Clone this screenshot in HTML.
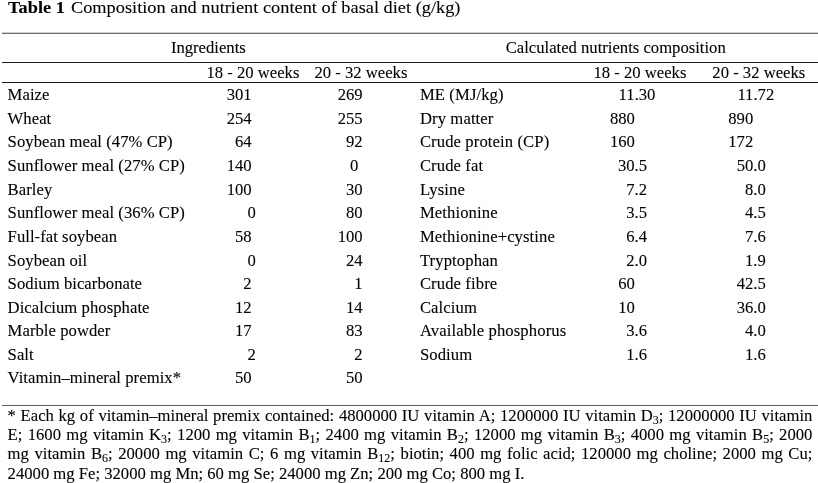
<!DOCTYPE html>
<html lang="en">
<head>
<meta charset="utf-8">
<title>Table 1 Composition and nutrient content of basal diet (g/kg)</title>
<style>
html,body{margin:0;padding:0;background:#fff;}
body{width:818px;height:483px;overflow:hidden;color:#000;
 font-family:"Liberation Serif",serif;font-size:16.65px;line-height:19px;
 -webkit-text-stroke:0.1px #000;}
table{border-collapse:separate;border-spacing:0;table-layout:fixed;width:816px;margin:0 0 0 2px;}
caption{caption-side:top;text-align:left;height:32px;line-height:14px;font-size:17.6px;
 padding:0 0 0 6px;border-bottom:1px solid #d0d0d0;white-space:nowrap;overflow:hidden;}
caption span{display:inline-block;transform:scaleX(1.042);transform-origin:0 0;}
caption b{margin-right:1.45px;}
th,td{padding:0;margin:0;font-weight:normal;white-space:nowrap;vertical-align:top;overflow:visible;}
thead .g th{height:28px;padding-top:4px;box-sizing:border-box;text-align:center;
 border-top:1px solid #6a6a6a;border-bottom:1px solid #1c1c1c;height:30px;}
thead .w th{height:20px;box-sizing:border-box;text-align:left;border-bottom:1px solid #1c1c1c;}
tbody td,tbody th{padding-top:2px;box-sizing:border-box;}
tbody th{text-align:left;}
tbody td{text-align:right;}
tbody tr.a>*{height:24px;}
tbody tr.b>*{height:23px;}
tbody tr.z>*{height:40px;border-bottom:1px solid #606060;}
th.l{padding-left:5.6px;letter-spacing:0.05px;}
th.r{padding-left:5.9px;letter-spacing:0.1px;}
.fn{margin:0 0 0 7.6px;padding:0;width:804.8px;}
.fn span{display:block;height:19px;white-space:nowrap;text-align:justify;text-align-last:justify;}
.fn span.t{height:20px;}
.fn span.e{text-align:left;text-align-last:left;}
sub{font-size:12px;vertical-align:baseline;position:relative;top:3px;line-height:0;}
</style>
</head>
<body>
<table>
<caption><span><b>Table 1</b> Composition and nutrient content of basal diet (g/kg)</span></caption>
<colgroup><col style="width:198px"><col style="width:107px"><col style="width:107px"><col style="width:173px"><col style="width:118px"><col style="width:113px"></colgroup>
<thead>
<tr class="g"><th colspan="3" scope="colgroup" style="padding-left:0.6px">Ingredients</th><th colspan="3" scope="colgroup" style="padding-right:0.6px">Calculated nutrients composition</th></tr>
<tr class="w"><th></th><th scope="col" style="padding-left:6.5px">18 - 20 weeks</th><th scope="col" style="padding-left:7.5px">20 - 32 weeks</th><th></th><th scope="col" style="padding-left:6.5px">18 - 20 weeks</th><th scope="col" style="padding-left:7.3px">20 - 32 weeks</th></tr>
</thead>
<tbody>
<tr class="a"><th scope="row" class="l">Maize</th><td style="padding-right:55.4px">301</td><td style="padding-right:51.4px">269</td><th scope="row" class="r">ME (MJ/kg)</th><td style="padding-right:49.6px">11.30</td><td style="padding-right:43.8px">11.72</td></tr>
<tr class="b"><th scope="row" class="l">Wheat</th><td style="padding-right:55.4px">254</td><td style="padding-right:51.4px">255</td><th scope="row" class="r">Dry matter</th><td style="padding-right:70.2px">880</td><td style="padding-right:64.8px">890</td></tr>
<tr class="a"><th scope="row" class="l">Soybean meal (47% CP)</th><td style="padding-right:55.4px">64</td><td style="padding-right:51.4px">92</td><th scope="row" class="r">Crude protein (CP)</th><td style="padding-right:70.2px">160</td><td style="padding-right:64.8px">172</td></tr>
<tr class="a"><th scope="row" class="l">Sunflower meal (27% CP)</th><td style="padding-right:55.4px">140</td><td style="padding-right:55.6px">0</td><th scope="row" class="r">Crude fat</th><td style="padding-right:58px">30.5</td><td style="padding-right:52.2px">50.0</td></tr>
<tr class="b"><th scope="row" class="l">Barley</th><td style="padding-right:55.4px">100</td><td style="padding-right:51.4px">30</td><th scope="row" class="r">Lysine</th><td style="padding-right:58px">7.2</td><td style="padding-right:52.2px">8.0</td></tr>
<tr class="a"><th scope="row" class="l">Sunflower meal (36% CP)</th><td style="padding-right:51.2px">0</td><td style="padding-right:51.4px">80</td><th scope="row" class="r">Methionine</th><td style="padding-right:58px">3.5</td><td style="padding-right:52.2px">4.5</td></tr>
<tr class="a"><th scope="row" class="l">Full-fat soybean</th><td style="padding-right:55.4px">58</td><td style="padding-right:51.4px">100</td><th scope="row" class="r">Methionine+cystine</th><td style="padding-right:58px">6.4</td><td style="padding-right:52.2px">7.6</td></tr>
<tr class="b"><th scope="row" class="l">Soybean oil</th><td style="padding-right:51.2px">0</td><td style="padding-right:51.4px">24</td><th scope="row" class="r">Tryptophan</th><td style="padding-right:58px">2.0</td><td style="padding-right:52.2px">1.9</td></tr>
<tr class="a"><th scope="row" class="l">Sodium bicarbonate</th><td style="padding-right:55.4px">2</td><td style="padding-right:51.4px">1</td><th scope="row" class="r">Crude fibre</th><td style="padding-right:70.2px">60</td><td style="padding-right:52.2px">42.5</td></tr>
<tr class="b"><th scope="row" class="l">Dicalcium phosphate</th><td style="padding-right:55.4px">12</td><td style="padding-right:51.4px">14</td><th scope="row" class="r">Calcium</th><td style="padding-right:70.2px">10</td><td style="padding-right:52.2px">36.0</td></tr>
<tr class="a"><th scope="row" class="l">Marble powder</th><td style="padding-right:55.4px">17</td><td style="padding-right:51.4px">83</td><th scope="row" class="r">Available phosphorus</th><td style="padding-right:58px">3.6</td><td style="padding-right:52.2px">4.0</td></tr>
<tr class="b"><th scope="row" class="l">Salt</th><td style="padding-right:51.2px">2</td><td style="padding-right:51.4px">2</td><th scope="row" class="r">Sodium</th><td style="padding-right:58px">1.6</td><td style="padding-right:52.2px">1.6</td></tr>
<tr class="z"><th scope="row" class="l">Vitamin–mineral premix*</th><td style="padding-right:55.4px">50</td><td style="padding-right:51.4px">50</td><td></td><td></td><td></td></tr>
</tbody>
</table>
<p class="fn">
<span>* Each kg of vitamin–mineral premix contained: 4800000 IU vitamin A; 1200000 IU vitamin D<sub>3</sub>; 12000000 IU vitamin</span>
<span>E; 1600 mg vitamin K<sub>3</sub>; 1200 mg vitamin B<sub>1</sub>; 2400 mg vitamin B<sub>2</sub>; 12000 mg vitamin B<sub>3</sub>; 4000 mg vitamin B<sub>5</sub>; 2000</span>
<span class="t">mg vitamin B<sub>6</sub>; 20000 mg vitamin C; 6 mg vitamin B<sub>12</sub>; biotin; 400 mg folic acid; 120000 mg choline; 2000 mg Cu;</span>
<span class="e">24000 mg Fe; 32000 mg Mn; 60 mg Se; 24000 mg Zn; 200 mg Co; 800 mg I.</span>
</p>
</body>
</html>
